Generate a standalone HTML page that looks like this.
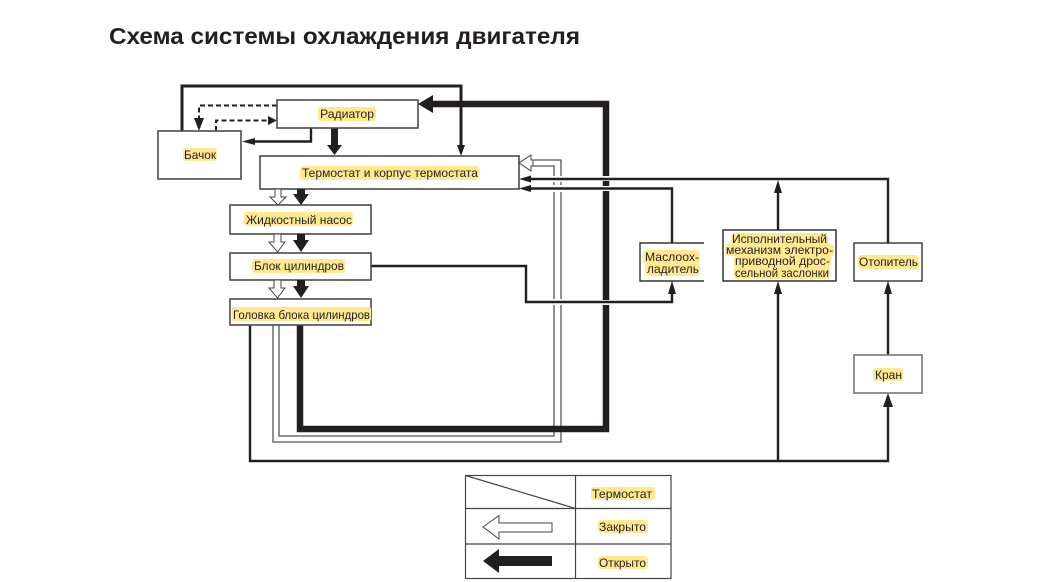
<!DOCTYPE html>
<html lang="ru">
<head>
<meta charset="utf-8">
<title>Схема системы охлаждения двигателя</title>
<style>
html,body{margin:0;padding:0;background:#fff;width:1057px;height:582px;overflow:hidden}
svg{display:block}
text{font-family:"Liberation Sans",sans-serif;font-size:12px;fill:#231f20}
.b{fill:#fff;stroke:#4a4a4a;stroke-width:1.6}
.l{fill:none;stroke:#231f20;stroke-width:2.4}
.t{fill:none;stroke:#555;stroke-width:1.3}
.d{fill:none;stroke:#231f20;stroke-width:2;stroke-dasharray:5 3}
.f{fill:#231f20}
.o{fill:#fff;stroke:#444;stroke-width:1}
.h{fill:#ffe88f}
</style>
</head>
<body>
<svg width="1057" height="582" viewBox="0 0 1057 582" xmlns="http://www.w3.org/2000/svg">
<text x="109" y="44" textLength="471" lengthAdjust="spacingAndGlyphs" style="font-size:23px;font-weight:bold">Схема системы охлаждения двигателя</text>

<!-- thin double lines -->
<path class="t" d="M273 325V442H561V160H531"/>
<path class="t" d="M279 325V436H554V166H531"/>
<polygon points="519,163 531,155 531,160 533,160 533,166 531,166 531,171" fill="#fff" stroke="#555" stroke-width="1.1"/>

<!-- very thick loop -->
<path d="M300 325V429H606V104H430" fill="none" stroke="#231f20" stroke-width="6.5"/>
<polygon class="f" points="418,104 433,95 433,113"/>

<!-- crossing gaps -->
<rect x="600" y="176" width="11" height="5" fill="#fff"/>
<rect x="600" y="186" width="11" height="5" fill="#fff"/>
<rect x="600" y="300" width="11" height="5" fill="#fff"/>
<rect x="552" y="176" width="11" height="6" fill="#fff"/>
<rect x="552" y="185" width="11" height="7" fill="#fff"/>
<rect x="552" y="299" width="11" height="6" fill="#fff"/>

<!-- main connectors -->
<path class="l" style="stroke-width:3" d="M182 131V86H461V148"/>
<polygon class="f" points="461,156 457,145 465,145"/>
<path class="l" d="M250 325V461H888V405"/>
<path class="l" d="M778 461V290"/>
<polygon class="f" points="778,281 774,294 782,294"/>
<polygon class="f" points="888,393 883,407 893,407"/>
<path class="l" d="M888 355V290"/>
<polygon class="f" points="888,281 884,294 892,294"/>
<path class="l" d="M888 243V179H528"/>
<polygon class="f" points="519,179 531,175.5 531,182.5"/>
<path class="l" d="M778 230V190"/>
<polygon class="f" points="778,180 774,193 782,193"/>
<path class="l" d="M672 243V188.500H528"/>
<polygon class="f" points="519,188.500 531,185 531,192"/>
<path class="l" d="M371 266H526V302H672V290"/>
<polygon class="f" points="672,281 668,294 676,294"/>
<path class="l" d="M311 128V141.500H250"/>
<polygon class="f" points="242,141.500 255,138 255,145"/>
<path class="d" d="M277 105.500H199V120"/>
<polygon class="f" points="199,131 194,118 204,118"/>
<path class="d" d="M216 131V120.500H268"/>
<polygon class="f" points="277,120.500 268,116 268,125"/>

<!-- radiator to thermostat -->
<polygon class="f" points="331,128 338,128 338,145 342,145 334.500,155 327,145 331,145"/>

<!-- boxes -->
<rect class="b" x="277" y="100" width="141" height="28"/>
<rect class="b" x="158" y="131" width="83" height="48"/>
<rect class="b" x="260" y="156" width="259" height="33"/>
<rect class="b" x="230" y="205" width="141" height="29"/>
<rect class="b" x="230" y="253" width="141" height="27"/>
<rect class="b" x="230" y="299" width="141" height="26"/>
<path d="M704 243H640V281H704" fill="#fff" stroke="#333" stroke-width="1.4"/>
<rect x="723" y="230" width="113" height="51" fill="#fff" stroke="#222" stroke-width="1.4"/>
<rect x="854" y="243" width="68" height="38" fill="#fff" stroke="#333" stroke-width="1.4"/>
<rect class="b" x="854" y="355" width="68" height="38" style="stroke:#777"/>

<!-- small arrows -->
<polygon class="o" points="275,189 281,189 281,197 286,197 278,205 270,197 275,197"/>
<polygon class="f" points="297,189 305,189 305,194 309,194 301,205 293,194 297,194"/>
<polygon class="o" points="274,234 281,234 281,242 285,242 277.500,252 269,242 274,242"/>
<polygon class="f" points="297,234 305,234 305,240 309,240 301,252 293,240 297,240"/>
<polygon class="o" points="274,280 281,280 281,288 285,288 277.500,298 269,288 274,288"/>
<polygon class="f" points="297,280 305,280 305,286 309,286 301,298 293,286 297,286"/>

<!-- highlights -->
<g class="h">
<rect x="318" y="107" width="58" height="14" rx="3"/>
<rect x="183" y="148" width="34" height="13" rx="3"/>
<rect x="300" y="166" width="179" height="14" rx="3"/>
<rect x="244" y="212" width="109" height="14" rx="3"/>
<rect x="252" y="259" width="93" height="14" rx="3"/>
<rect x="232" y="307" width="139" height="14" rx="2"/>
<rect x="643" y="250" width="57" height="14" rx="4"/>
<rect x="645" y="263" width="55" height="13" rx="4"/>
<rect x="731" y="233" width="97" height="12" rx="3"/>
<rect x="725" y="244" width="109" height="12" rx="3"/>
<rect x="734" y="255" width="97" height="12" rx="3"/>
<rect x="734" y="266" width="96" height="13" rx="3"/>
<rect x="858" y="255" width="61" height="14" rx="3"/>
<rect x="873" y="368" width="30" height="13" rx="3"/>
<rect x="591" y="487" width="64" height="13" rx="3"/>
<rect x="598" y="520" width="50" height="13" rx="3"/>
<rect x="598" y="556" width="50" height="13" rx="3"/>
</g>

<!-- labels -->
<text x="320" y="118" textLength="54" lengthAdjust="spacingAndGlyphs">Радиатор</text>
<text x="184" y="159" textLength="32" lengthAdjust="spacingAndGlyphs">Бачок</text>
<text x="302" y="177" textLength="176" lengthAdjust="spacingAndGlyphs">Термостат и корпус термостата</text>
<text x="246" y="224" textLength="106" lengthAdjust="spacingAndGlyphs">Жидкостный насос</text>
<text x="254" y="270" textLength="90" lengthAdjust="spacingAndGlyphs">Блок цилиндров</text>
<text x="233" y="319" textLength="137" lengthAdjust="spacingAndGlyphs">Головка блока цилиндров</text>
<text x="645" y="261" textLength="54" lengthAdjust="spacingAndGlyphs">Маслоох-</text>
<text x="647" y="273" textLength="52" lengthAdjust="spacingAndGlyphs">ладитель</text>
<text x="732" y="243" textLength="95" lengthAdjust="spacingAndGlyphs">Исполнительный</text>
<text x="726" y="254" textLength="107" lengthAdjust="spacingAndGlyphs">механизм электро-</text>
<text x="735" y="265" textLength="95" lengthAdjust="spacingAndGlyphs">приводной дрос-</text>
<text x="735" y="277" textLength="94" lengthAdjust="spacingAndGlyphs">сельной заслонки</text>
<text x="859" y="266" textLength="59" lengthAdjust="spacingAndGlyphs">Отопитель</text>
<text x="875" y="379" textLength="27" lengthAdjust="spacingAndGlyphs">Кран</text>

<!-- legend -->
<g fill="none" stroke="#444" stroke-width="1.2">
<rect x="465.500" y="475.500" width="205.500" height="103"/>
<path d="M465.500 508.500H671M465.500 544H671M575.500 475.500V578.500"/>
<path d="M465.500 475.500L575.500 508.500"/>
</g>
<polygon points="483,527 499,515.500 499,523 552,523 552,532 499,532 499,539" fill="#fff" stroke="#444" stroke-width="1"/>
<polygon class="f" points="483,561 499,549 499,556 552,556 552,566 499,566 499,573"/>
<text x="592" y="498" textLength="60" lengthAdjust="spacingAndGlyphs">Термостат</text>
<text x="599" y="531" textLength="47" lengthAdjust="spacingAndGlyphs">Закрыто</text>
<text x="599" y="567" textLength="47" lengthAdjust="spacingAndGlyphs">Открыто</text>
</svg>
</body>
</html>
